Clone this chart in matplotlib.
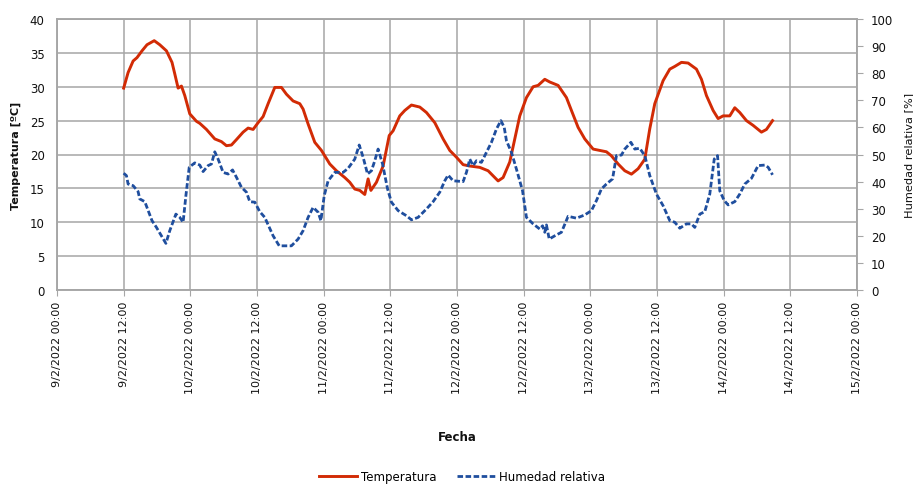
import matplotlib
matplotlib.use("Agg")
import matplotlib.pyplot as plt
from matplotlib.lines import Line2D

# ---- data (hours since 9/2/2022 00:00) ----
temp_hours = [12.0, 12.8, 13.7, 14.4, 15.3, 16.2, 17.5, 18.5, 19.7, 20.7, 21.2, 21.8,
              22.4, 23.0, 23.9, 25.1, 25.7, 26.9, 28.4, 29.6, 30.5, 31.4, 32.3, 33.5,
              34.4, 35.3, 36.2, 37.1, 38.0, 39.2, 40.4, 41.3, 42.5, 43.7, 44.3, 45.2,
              46.4, 47.6, 49.1, 50.3, 51.8, 52.7, 53.6, 54.5, 55.4, 56.0, 56.5, 57.5,
              58.7, 59.8, 60.5, 61.7, 62.6, 63.8, 65.3, 66.5, 68.0, 69.5, 70.7, 71.9,
              73.1, 74.3, 76.1, 77.6, 79.4, 80.3, 81.5, 82.4, 83.3, 84.5, 85.7, 86.6,
              87.8, 88.7, 90.2, 91.7, 92.6, 93.8, 95.0, 96.5, 97.7, 98.9, 99.8, 101.0,
              102.2, 103.4, 104.6, 105.8, 106.7, 107.6, 109.1, 110.3, 111.2, 112.4,
              113.6, 115.1, 116.0, 116.9, 118.1, 119.0, 119.9, 121.1, 122.0, 122.9,
              124.1, 125.3, 126.8, 127.7, 128.8]
temperatura = [29.8, 32.1, 33.8, 34.3, 35.3, 36.2, 36.8, 36.2, 35.3, 33.6, 31.9, 29.8,
               30.1, 28.7, 26.0, 24.9, 24.6, 23.7, 22.3, 21.9, 21.3, 21.4, 22.2, 23.3,
               23.9, 23.7, 24.7, 25.6, 27.5, 29.9, 29.9, 28.9, 27.9, 27.5, 26.7, 24.5,
               21.8, 20.6, 18.6, 17.6, 16.6, 15.9, 14.9, 14.7, 14.1, 16.4, 14.7, 15.9,
               18.3, 22.8, 23.5, 25.7, 26.5, 27.3, 27.0, 26.2, 24.7, 22.3, 20.6, 19.6,
               18.5, 18.3, 18.1, 17.6, 16.1, 16.6, 18.9, 22.3, 25.7, 28.4, 30.0, 30.2,
               31.1, 30.7, 30.2, 28.4, 26.5, 24.0, 22.3, 20.8, 20.6, 20.4, 19.8, 18.6,
               17.6, 17.1, 17.9, 19.3, 23.8, 27.5, 30.9, 32.6, 33.0, 33.6,
               33.5, 32.6, 31.1, 28.7, 26.5, 25.3, 25.7, 25.7, 26.9, 26.2,
               25.0, 24.3, 23.3, 23.7, 25.0]

hum_hours = [12.0, 12.5, 12.8, 13.7, 14.6, 14.9, 15.8, 17.1, 17.9, 18.8, 19.6, 20.3,
             21.4, 22.1, 22.7, 23.2, 23.8, 24.8, 25.7, 26.3, 27.2, 27.8, 28.4, 29.0,
             29.9, 30.8, 31.6, 32.3, 33.2, 34.1, 34.7, 35.6, 36.5, 37.4, 38.9, 40.0,
             41.0, 42.2, 43.4, 44.3, 45.2, 46.1, 47.0, 47.5, 48.1, 48.8, 50.0, 51.5,
             52.4, 53.6, 54.4, 55.1, 55.9, 56.6, 57.2, 57.8, 58.6, 59.5, 60.2, 61.4,
             62.9, 63.8, 65.0, 66.5, 67.7, 68.9, 69.8, 70.4, 71.3, 73.1, 73.7, 74.3,
             74.9, 75.5, 76.4, 77.3, 78.2, 79.1, 79.9, 80.5, 80.9, 81.8, 82.7, 83.8,
             84.5, 85.7, 86.9, 87.4, 87.8, 88.1, 88.6, 89.6, 90.8, 92.0, 93.5, 95.0,
             96.2, 97.1, 98.0, 98.9, 100.0, 100.7, 101.6, 102.2, 103.3, 104.0, 104.9,
             105.8, 106.7, 107.9, 109.1, 110.3, 111.2, 112.1, 113.3, 114.2, 114.8,
             115.7, 116.6, 117.5, 118.3, 118.9, 119.3, 120.1, 120.8, 122.0, 122.9,
             123.8, 125.0, 126.2, 127.4, 128.0, 128.8]
humedad = [43.1, 42.2, 39.1, 38.5, 36.3, 33.6, 32.6, 25.6, 23.1, 20.0, 17.2, 21.9,
           28.0, 26.8, 25.0, 34.8, 45.3, 46.9, 46.1, 43.7, 45.9, 46.5, 51.0, 48.3,
           43.4, 42.8, 44.3, 41.6, 37.9, 36.1, 32.6, 32.4, 28.9, 26.8, 20.0, 16.3,
           16.3, 16.3, 18.8, 21.9, 26.8, 30.5, 28.7, 25.6, 34.8, 40.3, 43.4, 43.4,
           44.9, 48.3, 53.5, 49.0, 42.8, 44.0, 47.7, 52.0, 46.5, 37.3, 32.4, 29.3,
           27.4, 25.9, 26.8, 29.9, 32.6, 36.1, 40.3, 42.4, 40.3, 40.0, 43.4, 48.3,
           45.9, 47.7, 47.1, 50.8, 54.5, 59.4, 62.5, 60.0, 55.1, 50.8, 44.6, 36.6,
           26.8, 24.4, 22.5, 23.7, 21.3, 24.0, 18.8, 20.0, 21.3, 27.2, 26.5, 27.7,
           29.3, 33.0, 37.3, 39.1, 41.0, 49.6, 49.8, 52.0, 54.5, 52.0, 52.3,
           49.6, 42.2, 35.4, 31.1, 25.6, 25.0, 22.8, 24.4, 24.4, 23.1,
           28.0, 28.9, 35.4, 48.3, 49.6, 36.6, 33.0, 31.4, 32.6, 35.4,
           39.1, 41.2, 45.9, 46.1, 45.3, 42.5]

tick_hours = [0, 12, 24, 36, 48, 60, 72, 84, 96, 108, 120, 132, 144]
tick_labels = ["9/2/2022 00:00", "9/2/2022 12:00", "10/2/2022 00:00", "10/2/2022 12:00",
               "11/2/2022 00:00", "11/2/2022 12:00", "12/2/2022 00:00", "12/2/2022 12:00",
               "13/2/2022 00:00", "13/2/2022 12:00", "14/2/2022 00:00", "14/2/2022 12:00",
               "15/2/2022 00:00"]
temp_ticks = [0, 5, 10, 15, 20, 25, 30, 35, 40]
hum_ticks = [0, 10, 20, 30, 40, 50, 60, 70, 80, 90, 100]

RED = "#D22B05"
BLUE = "#1F4E9E"
GRID = "#A6A6A6"
TXT = "#111111"

plt.rcParams['font.family'] = ['DejaVu Sans']

fig = plt.figure(figsize=(9.13, 4.85), dpi=100)
ax = fig.add_axes([57/913, 1-291/485, 800/913, 271/485])
ax2 = ax.twinx()

ax.plot(temp_hours, temperatura, color=RED, lw=2.1, solid_joinstyle='round', zorder=3)
ax2.plot(hum_hours, humedad, color=BLUE, lw=2.0, linestyle=(0, (2.0, 0.9)), zorder=3)

ax.set_xlim(0, 144)
ax.set_ylim(0, 40)
ax2.set_ylim(0, 100)
ax.set_xticks(tick_hours)
ax.set_xticklabels(tick_labels, rotation=90, fontsize=8, color=TXT)
ax.set_yticks(temp_ticks)
ax.set_yticklabels([str(t) for t in temp_ticks], fontsize=8.5, color=TXT)
ax2.set_yticks(hum_ticks)
ax2.set_yticklabels([str(t) for t in hum_ticks], fontsize=8.5, color=TXT)

ax.grid(True, color=GRID, lw=1.1)
ax.set_axisbelow(True)
ax.tick_params(axis='y', length=0, pad=9)
ax.tick_params(axis='x', length=4, color=GRID, pad=4)
ax2.tick_params(axis='y', length=4, color=GRID, pad=6)

for a in (ax, ax2):
    for s in a.spines.values():
        s.set_color(GRID)
        s.set_linewidth(1.1)

ax.set_ylabel("Temperatura [ºC]", fontsize=8, fontweight='bold', color=TXT, labelpad=6)
ax2.set_ylabel("Humedad relativa [%]", fontsize=8.2, color=TXT)
ax2.yaxis.set_label_coords(904/913 * 913/800 - 57/800, 0.5)

fig.text(457/913, 1-438/485, "Fecha", ha='center', va='center', fontsize=8.5,
         fontweight='bold', color=TXT)

handles = [Line2D([], [], color=RED, lw=2.1),
           Line2D([], [], color=BLUE, lw=2.0, linestyle=(0, (2.0, 0.9)))]
fig.legend(handles, ["Temperatura", "Humedad relativa"], loc='center',
           bbox_to_anchor=(462/913, 1-478/485), ncol=2, frameon=False, fontsize=8.5,
           handlelength=3.2, columnspacing=1.8, handletextpad=0.3)

fig.savefig("out.png", dpi=100)
